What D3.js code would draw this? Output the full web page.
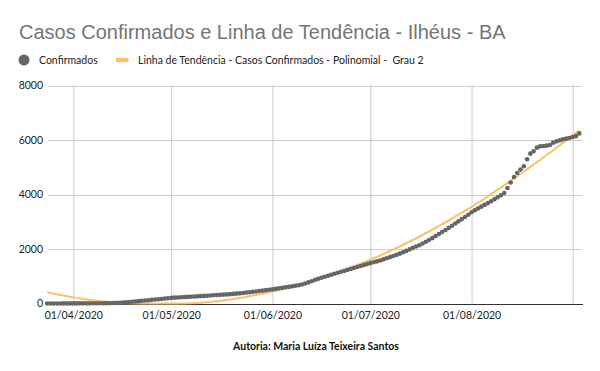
<!DOCTYPE html>
<html>
<head>
<meta charset="utf-8">
<script src="https://cdn.jsdelivr.net/npm/d3@7"></script>
<style>
  body { margin: 0; background: #fff; }
  text { white-space: pre; }
</style>
</head>
<body>
<script>
const width = 600;
const height = 371;
const margin = { left: 48, right: 18, top: 85, bottom: 67.5 };

// casos confirmados acumulados, um valor por dia a partir de 24/03/2020
const firstDay = new Date(2020, 2, 24);
const casosMarco = [1, 1, 2, 2, 2, 3, 3, 3];
const casosAbril = [4, 4, 5, 5, 6, 6, 7, 8, 9, 10, 12, 14, 17, 22, 28, 35, 43, 52, 62, 74,
    86, 98, 110, 122, 134, 145, 156, 167, 181, 194];
const casosMaio = [205, 214, 222, 229, 236, 242, 249, 256, 263, 271, 279, 287, 295, 302, 310, 318,
    326, 334, 343, 353, 363, 373, 386, 400, 414, 428, 443, 458, 473, 489, 504];
const casosJunho = [520, 538, 556, 574, 592, 610, 630, 650, 670, 700, 735, 775, 815, 860, 905, 945,
    982, 1018, 1055, 1092, 1128, 1164, 1199, 1234, 1269, 1304, 1340, 1378, 1410, 1445];
const casosJulho = [1480, 1512, 1545, 1580, 1618, 1658, 1700, 1742, 1786, 1830, 1880, 1930, 1985,
    2040, 2090, 2140, 2200, 2265, 2330, 2400, 2475, 2550, 2625, 2700, 2775, 2855, 2935, 3015, 3095,
    3175, 3255];
const casosAgosto = [3350, 3420, 3490, 3555, 3620, 3685, 3753, 3826, 3900, 3973, 4057, 4240, 4438,
    4643, 4790, 4913, 5035, 5291, 5500, 5584, 5719, 5767, 5778, 5793, 5815, 5903, 5950, 5987, 6024,
    6049, 6071];
const casosSetembro = [6108, 6144, 6243];

// linha de tendência (polinomial grau 2)
const trendDates = ["2020-03-24", "2020-03-28", "2020-04-01", "2020-04-05", "2020-04-09", "2020-04-13",
    "2020-04-17", "2020-04-21", "2020-05-05", "2020-05-09", "2020-05-13", "2020-05-17", "2020-05-21",
    "2020-05-25", "2020-06-01", "2020-06-08", "2020-06-16", "2020-07-01", "2020-07-16", "2020-08-01",
    "2020-08-16", "2020-09-03"];
const trendValues = [410, 315, 225, 150, 88, 38, 6, 0, 0, 18, 60, 112, 182, 265, 437, 646, 932,
    1604, 2450, 3545, 4753, 6350];

const yTicks = [0, 2000, 4000, 6000, 8000];
const monthTicks = ["2020-04-01", "2020-05-01", "2020-06-01", "2020-07-01", "2020-08-01", "2020-09-01"];
const labelledMonths = 5;

const parse = d3.timeParse("%Y-%m-%d");
const fmt = d3.timeFormat("%d/%m/%Y");

const cases = [].concat(casosMarco, casosAbril, casosMaio, casosJunho, casosJulho, casosAgosto, casosSetembro)
    .map((v, i) => ({ date: d3.timeDay.offset(firstDay, i), value: v }));
const trend = trendDates.map((d, i) => ({ date: parse(d), value: trendValues[i] }));
const ticks = monthTicks.map(parse);

const x = d3.scaleTime()
    .domain([new Date(2020, 2, 24, 6), new Date(2020, 8, 3, 20)])
    .range([margin.left, width - margin.right]);
const y = d3.scaleLinear()
    .domain([0, 8000])
    .range([height - margin.bottom, margin.top + 0.5]);

const svg = d3.select("body").append("svg")
    .attr("width", width)
    .attr("height", height);

svg.append("text")
    .attr("x", 19)
    .attr("y", 38.5)
    .attr("font-family", "'Liberation Sans', Arial, sans-serif")
    .attr("font-size", 20)
    .attr("fill", "#757575")
    .text("Casos Confirmados e Linha de Tendência - Ilhéus - BA");

// legenda
const legend = svg.append("g")
    .attr("font-family", "Lato, sans-serif")
    .attr("font-size", 10.5)
    .attr("fill", "#222");
legend.append("circle")
    .attr("cx", 24).attr("cy", 60).attr("r", 5.5)
    .attr("fill", "#666");
legend.append("text")
    .attr("x", 39).attr("y", 63.8)
    .text("Confirmados");
legend.append("line")
    .attr("x1", 116).attr("x2", 128.5).attr("y1", 60).attr("y2", 60)
    .attr("stroke", "#fbc168").attr("stroke-width", 4);
legend.append("text")
    .attr("x", 138).attr("y", 63.8)
    .text("Linha de Tendência - Casos Confirmados - Polinomial -  Grau 2");

// grade e eixos
const yAxis = d3.axisLeft(y)
    .tickValues(yTicks)
    .tickFormat(d3.format("d"))
    .tickSize(-(width - margin.left - margin.right))
    .tickPadding(5);
const gy = svg.append("g")
    .attr("transform", `translate(${margin.left},0)`)
    .call(yAxis);
gy.select(".domain").remove();
gy.selectAll(".tick line").attr("stroke", "#cccccc").attr("shape-rendering", "crispEdges");
gy.selectAll(".tick text")
    .attr("font-family", "Lato, sans-serif")
    .attr("font-size", 10.5)
    .attr("fill", "#222");

const xAxis = d3.axisBottom(x)
    .tickValues(ticks)
    .tickFormat((d, i) => i < labelledMonths ? fmt(d) : "")
    .tickSize(-(y(0) - y(8000)))
    .tickSizeOuter(0)
    .tickPadding(8.5);
const gx = svg.append("g")
    .attr("transform", `translate(0,${y(0)})`)
    .call(xAxis);
gx.selectAll(".tick line").attr("stroke", "#cccccc");
gx.select(".domain").attr("stroke", "#333").attr("shape-rendering", "crispEdges");
gx.selectAll(".tick text")
    .attr("font-family", "Lato, sans-serif")
    .attr("font-size", 10.5)
    .attr("fill", "#222");
gx.select(".domain").raise();

// tendência
svg.append("path")
    .datum(trend)
    .attr("fill", "none")
    .attr("stroke", "#fbc168")
    .attr("stroke-width", 2)
    .attr("d", d3.line()
        .x(d => x(d.date))
        .y(d => y(d.value))
        .curve(d3.curveMonotoneX));

// pontos
svg.append("g")
    .selectAll("circle")
    .data(cases)
    .enter()
    .append("circle")
    .attr("cx", d => x(d.date))
    .attr("cy", d => y(d.value))
    .attr("r", 2.3)
    .attr("fill", "#666");

svg.append("text")
    .attr("x", 316)
    .attr("y", 349.5)
    .attr("text-anchor", "middle")
    .attr("font-family", "Lato, sans-serif")
    .attr("font-weight", "bold")
    .attr("font-size", 10.5)
    .attr("fill", "#111")
    .text("Autoria: Maria Luíza Teixeira Santos");
</script>
</body>
</html>
